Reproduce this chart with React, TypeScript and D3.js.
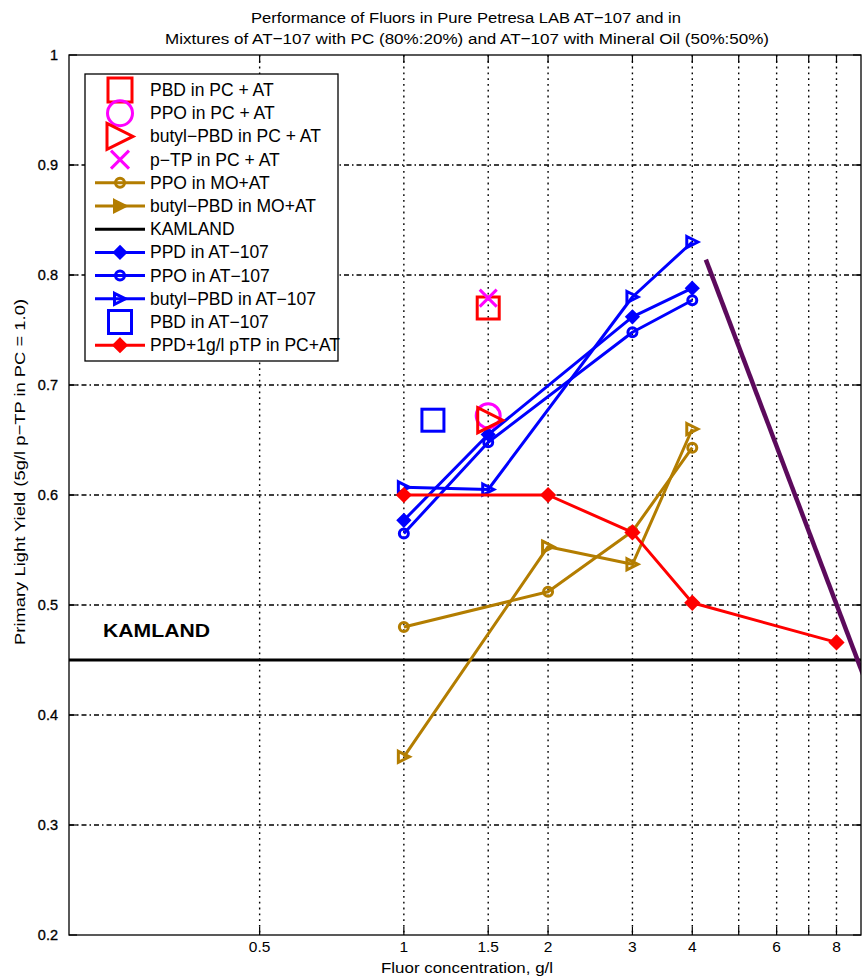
import React from "react";
import * as d3 from "d3";

// ---------- data ----------
const xTickValues = [0.5, 1, 1.5, 2, 3, 4, 6, 8];
const xGridValues = [0.5, 1, 1.5, 2, 3, 4, 5, 6, 7, 8];
const yTickValues = [0.2, 0.3, 0.4, 0.5, 0.6, 0.7, 0.8, 0.9, 1];

const concAT = [1, 1.5, 3, 4];
const ppdAT = [0.577, 0.655, 0.762, 0.788];
const ppoAT = [0.565, 0.648, 0.748, 0.777];
const butylAT = [0.607, 0.605, 0.78, 0.83];

const concMO = [1, 2, 3, 4];
const ppoMO = [0.48, 0.512, 0.567, 0.643];
const butylMO = [0.362, 0.553, 0.537, 0.66];

const concPTP = [1, 2, 3, 4, 8];
const ppdPTP = [0.6, 0.6, 0.566, 0.502, 0.466];

const pbdPC = { x: 1.5, y: 0.77 };
const ppoPC = { x: 1.5, y: 0.672 };
const butylPC = { x: 1.5, y: 0.668 };
const ptpPC = { x: 1.5, y: 0.779 };
const pbdAT = { x: 1.15, y: 0.668 };

const kamland = 0.45;
const purpleX = [4.27, 9.4];
const purpleY = [0.814, 0.42];

const legendLabels = [
  "PBD in PC + AT",
  "PPO in PC + AT",
  "butyl\u2212PBD in PC + AT",
  "p\u2212TP in PC + AT",
  "PPO in MO+AT",
  "butyl\u2212PBD in MO+AT",
  "KAMLAND",
  "PPD in AT\u2212107",
  "PPO in AT\u2212107",
  "butyl\u2212PBD in AT\u2212107",
  "PBD in AT\u2212107",
  "PPD+1g/l pTP in PC+AT",
];

// ---------- styles ----------
const W = 863;
const H = 977;
const left = 69;
const right = 861;
const top = 55;
const bottom = 935;
const RED = "#ff0000";
const MAG = "#ff00ff";
const BLUE = "#0000ff";
const BROWN = "#b37d00";
const PURPLE = "#5c0a5c";
const NARROW = "'Liberation Sans Narrow', 'Arial Narrow', 'Liberation Sans', sans-serif";
const SANS = "'Liberation Sans', Arial, sans-serif";

const x = d3.scaleLog().domain([0.2, 9]).range([left, right]);
const y = d3.scaleLinear().domain([0.2, 1]).range([bottom, top]);

type Mk = "square" | "circle" | "triRight" | "x" | "diamond" | "none";

function Marker({ kind, cx, cy, size, color, sw, fill }: { kind: Mk; cx: number; cy: number; size: number; color: string; sw: number; fill?: string }) {
  const f = fill || "none";
  const h = size / 2;
  if (kind === "square")
    return <rect x={cx - h} y={cy - h} width={size} height={size} fill={f} stroke={color} strokeWidth={sw} />;
  if (kind === "circle") return <circle cx={cx} cy={cy} r={h} fill={f} stroke={color} strokeWidth={sw} />;
  if (kind === "triRight")
    return (
      <path
        d={`M${cx - h},${cy - h}L${cx + h},${cy}L${cx - h},${cy + h}Z`}
        fill={f}
        stroke={color}
        strokeWidth={sw}
        strokeLinejoin="miter"
      />
    );
  if (kind === "x")
    return (
      <path d={`M${cx - h},${cy - h}L${cx + h},${cy + h}M${cx - h},${cy + h}L${cx + h},${cy - h}`} stroke={color} strokeWidth={sw} />
    );
  if (kind === "diamond")
    return <path d={`M${cx},${cy - h}L${cx + h},${cy}L${cx},${cy + h}L${cx - h},${cy}Z`} fill={f} stroke={color} strokeWidth={sw} />;
  return null;
}

const lineGen = d3
  .line<[number, number]>()
  .x((d) => x(d[0]))
  .y((d) => y(d[1]));

function zip(xs: number[], ys: number[]): [number, number][] {
  return xs.map((v, i) => [v, ys[i]]);
}

const lineSeries = [
  { xs: concMO, ys: ppoMO, color: BROWN, mk: "circle" as Mk, size: 9, fill: "none" },
  { xs: concMO, ys: butylMO, color: BROWN, mk: "triRight" as Mk, size: 11, fill: "none" },
  { xs: concAT, ys: ppdAT, color: BLUE, mk: "diamond" as Mk, size: 11, fill: BLUE },
  { xs: concAT, ys: ppoAT, color: BLUE, mk: "circle" as Mk, size: 9, fill: "none" },
  { xs: concAT, ys: butylAT, color: BLUE, mk: "triRight" as Mk, size: 11, fill: "none" },
  { xs: concPTP, ys: ppdPTP, color: RED, mk: "diamond" as Mk, size: 12, fill: RED },
];

const legendEntries: { line: boolean; color: string; mk: Mk; size: number; fill?: string; sw: number }[] = [
  { line: false, color: RED, mk: "square", size: 24, sw: 3 },
  { line: false, color: MAG, mk: "circle", size: 25, sw: 3 },
  { line: false, color: RED, mk: "triRight", size: 26, sw: 3 },
  { line: false, color: MAG, mk: "x", size: 18, sw: 3 },
  { line: true, color: BROWN, mk: "circle", size: 9, sw: 3 },
  { line: true, color: BROWN, mk: "triRight", size: 11, sw: 3, fill: BROWN },
  { line: true, color: "#000000", mk: "none", size: 0, sw: 3 },
  { line: true, color: BLUE, mk: "diamond", size: 11, sw: 3, fill: BLUE },
  { line: true, color: BLUE, mk: "circle", size: 9, sw: 3 },
  { line: true, color: BLUE, mk: "triRight", size: 11, sw: 3 },
  { line: false, color: BLUE, mk: "square", size: 23, sw: 3 },
  { line: true, color: RED, mk: "diamond", size: 12, sw: 3, fill: RED },
];

export default function App() {
  const legX = 85;
  const legY = 74;
  const legW = 253;
  const legH = 287;
  const rowY0 = 90;
  const rowStep = 23.2;

  return (
    <svg width={W} height={H} style={{ position: "absolute", left: 0, top: 0, background: "#fff" }}>
      <defs>
        <clipPath id="plotClip">
          <rect x={left} y={top} width={right - left} height={bottom - top} />
        </clipPath>
      </defs>
      <rect x={0} y={0} width={W} height={H} fill="#fff" />

      {/* title */}
      <text x={466} y={23} textAnchor="middle" fontFamily={NARROW} fontSize={15.5} textLength={430} lengthAdjust="spacingAndGlyphs">
        Performance of Fluors in Pure Petresa LAB AT{"\u2212"}107 and in
      </text>
      <text x={467} y={44} textAnchor="middle" fontFamily={NARROW} fontSize={15.5} textLength={604} lengthAdjust="spacingAndGlyphs">
        Mixtures of AT{"\u2212"}107 with PC (80%:20%) and AT{"\u2212"}107 with Mineral Oil (50%:50%)
      </text>

      {/* grid */}
      {yTickValues
        .filter((v) => v > 0.2 && v < 1)
        .map((v) => (
          <line key={"hg" + v} x1={left} x2={right} y1={y(v)} y2={y(v)} stroke="#000" strokeWidth={1.3} strokeDasharray="5,3,1.5,3" />
        ))}
      {xGridValues.map((v) => (
        <line key={"vg" + v} x1={x(v)} x2={x(v)} y1={top} y2={bottom} stroke="#000" strokeWidth={1.4} strokeDasharray="1.8,4" />
      ))}

      {/* ticks */}
      {yTickValues.map((v) => (
        <g key={"yt" + v}>
          <line x1={left} x2={left + 8} y1={y(v)} y2={y(v)} stroke="#000" strokeWidth={1.2} />
          <line x1={right - 8} x2={right} y1={y(v)} y2={y(v)} stroke="#000" strokeWidth={1.2} />
          <text x={58} y={y(v) + 5} textAnchor="end" fontFamily={SANS} fontSize={14.5} stroke="#000" strokeWidth={0.3}>
            {String(v)}
          </text>
        </g>
      ))}
      {xGridValues.map((v) => (
        <g key={"xt" + v}>
          <line x1={x(v)} x2={x(v)} y1={bottom} y2={bottom - 8} stroke="#000" strokeWidth={1.2} />
          <line x1={x(v)} x2={x(v)} y1={top} y2={top + 8} stroke="#000" strokeWidth={1.2} />
        </g>
      ))}
      {xTickValues.map((v) => (
        <text key={"xl" + v} x={x(v)} y={952} textAnchor="middle" fontFamily={NARROW} fontSize={15.5}>
          {String(v)}
        </text>
      ))}

      {/* axis labels */}
      <text x={467} y={973} textAnchor="middle" fontFamily={NARROW} fontSize={15.5} textLength={172} lengthAdjust="spacingAndGlyphs">
        Fluor concentration, g/l
      </text>
      <text
        transform={`translate(25,472) rotate(-90)`}
        textAnchor="middle"
        fontFamily={NARROW}
        fontSize={15.5}
        textLength={346}
        lengthAdjust="spacingAndGlyphs"
      >
        Primary Light Yield (5g/l p{"\u2212"}TP in PC = 1.0)
      </text>

      <g clipPath="url(#plotClip)">
        {/* KAMLAND */}
        <line x1={left} x2={right} y1={y(kamland)} y2={y(kamland)} stroke="#000" strokeWidth={3} />
        <text x={103} y={637} fontFamily={SANS} fontWeight="bold" fontSize={17.5} textLength={107} lengthAdjust="spacingAndGlyphs">
          KAMLAND
        </text>

        {/* line series */}
        {lineSeries.map((s, i) => (
          <g key={"ls" + i}>
            <path d={lineGen(zip(s.xs, s.ys)) || ""} fill="none" stroke={s.color} strokeWidth={3} strokeLinejoin="round" />
            {s.xs.map((v, j) => (
              <Marker key={j} kind={s.mk} cx={x(v)} cy={y(s.ys[j])} size={s.size} color={s.color} sw={3} fill={s.fill} />
            ))}
          </g>
        ))}

        {/* single points */}
        <Marker kind="square" cx={x(pbdAT.x)} cy={y(pbdAT.y)} size={22} color={BLUE} sw={3} />
        <Marker kind="square" cx={x(pbdPC.x)} cy={y(pbdPC.y)} size={22} color={RED} sw={3} />
        <Marker kind="x" cx={x(ptpPC.x)} cy={y(ptpPC.y)} size={17} color={MAG} sw={3} />
        <Marker kind="circle" cx={x(ppoPC.x)} cy={y(ppoPC.y)} size={24} color={MAG} sw={3} />
        <Marker kind="triRight" cx={x(butylPC.x) + 2} cy={y(butylPC.y)} size={25} color={RED} sw={3} />

        {/* purple line */}
        <path d={lineGen(zip(purpleX, purpleY)) || ""} stroke={PURPLE} strokeWidth={4.5} fill="none" />
      </g>

      {/* frame */}
      <rect x={left} y={top} width={right - left} height={bottom - top} fill="none" stroke="#000" strokeWidth={1.3} />

      {/* legend */}
      <rect x={legX} y={legY} width={legW} height={legH} fill="#fff" stroke="#000" strokeWidth={1.3} />
      {legendEntries.map((e, i) => {
        const cy = rowY0 + i * rowStep;
        return (
          <g key={"lg" + i}>
            {e.line && <line x1={95} x2={145} y1={cy} y2={cy} stroke={e.color} strokeWidth={3} />}
            <Marker kind={e.mk} cx={120} cy={cy} size={e.size} color={e.color} sw={e.sw} fill={e.fill} />
            <text x={150} y={cy + 6} fontFamily={SANS} fontSize={17.5}>
              {legendLabels[i]}
            </text>
          </g>
        );
      })}
    </svg>
  );
}
